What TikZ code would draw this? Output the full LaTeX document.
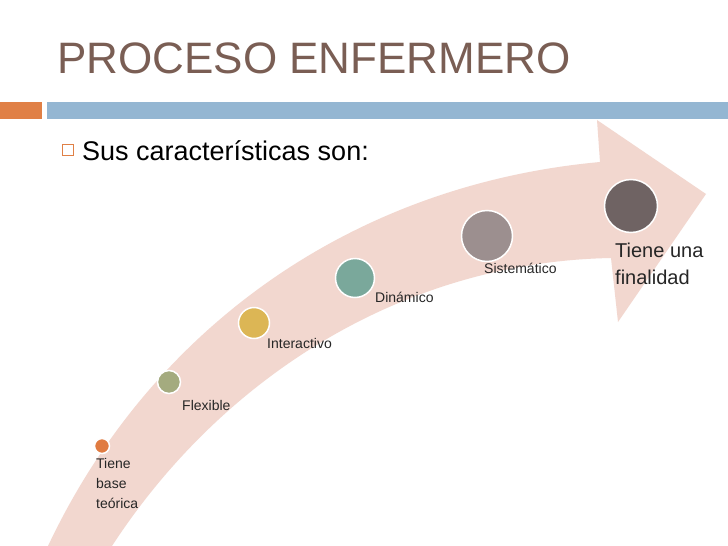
\documentclass[tikz,border=0pt]{standalone}
\usepackage{fontspec}
\setmainfont{Liberation Sans}
\definecolor{ttl}{RGB}{122,94,84}
\definecolor{bor}{RGB}{224,128,70}
\definecolor{bbl}{RGB}{148,182,210}
\definecolor{arr}{RGB}{242,215,207}
\definecolor{k1}{RGB}{224,123,65}
\definecolor{k2}{RGB}{164,171,127}
\definecolor{k3}{RGB}{220,182,85}
\definecolor{k4}{RGB}{122,168,155}
\definecolor{k5}{RGB}{156,143,143}
\definecolor{k6}{RGB}{111,99,99}
\begin{document}
\begin{tikzpicture}[x=1pt,y=-1pt,
  dot/.style={circle,draw=white,line width=1.5pt,inner sep=0pt},
  lab/.style={anchor=north west,inner sep=0pt,font=\fontsize{14}{20}\selectfont,text=black!85,align=left}]
\useasboundingbox (0,0) rectangle (728,546);
\fill[white] (0,0) rectangle (728,546);
\node[anchor=west,inner sep=0pt,text=ttl,font=\fontsize{44}{46}\selectfont] (title) at (57,58) {PROCESO ENFERMERO};
\fill[bor] (0,102) rectangle (42,119);
\fill[bbl] (47,102) rectangle (728,119);
\fill[arr] (48,546) .. controls (150,330) and (350,185) .. (600,162) -- (597,120) -- (706,194) -- (618,322) -- (611,258) .. controls (400,262) and (220,380) .. (112,546) -- cycle;
\node[draw=bor,line width=0.6pt,minimum size=11pt,inner sep=0pt] (box) at (68,150) {};
\node[anchor=west,inner sep=0pt,font=\fontsize{27}{30}\selectfont] (sub) at (82,151) {Sus características son:};
\node[dot,fill=k1,minimum size=15pt] (c1) at (102,446) {};
\node[dot,fill=k2,minimum size=23pt] (c2) at (169,382) {};
\node[dot,fill=k3,minimum size=31pt] (c3) at (254,323) {};
\node[dot,fill=k4,minimum size=39pt] (c4) at (355,278) {};
\node[dot,fill=k5,minimum size=51pt] (c5) at (487,236) {};
\node[dot,fill=k6,minimum size=53pt] (c6) at (631,206) {};
\node[lab] (l1) at (96,458) {Tiene\\base\\teórica};
\node[lab] (l2) at (182,400) {Flexible};
\node[lab] (l3) at (267,338) {Interactivo};
\node[lab] (l4) at (375,292) {Dinámico};
\node[lab] (l5) at (484,263) {Sistemático};
\node[lab,font=\fontsize{20}{27}\selectfont] (l6) at (615,243) {Tiene una\\finalidad};
\end{tikzpicture}
\end{document}
